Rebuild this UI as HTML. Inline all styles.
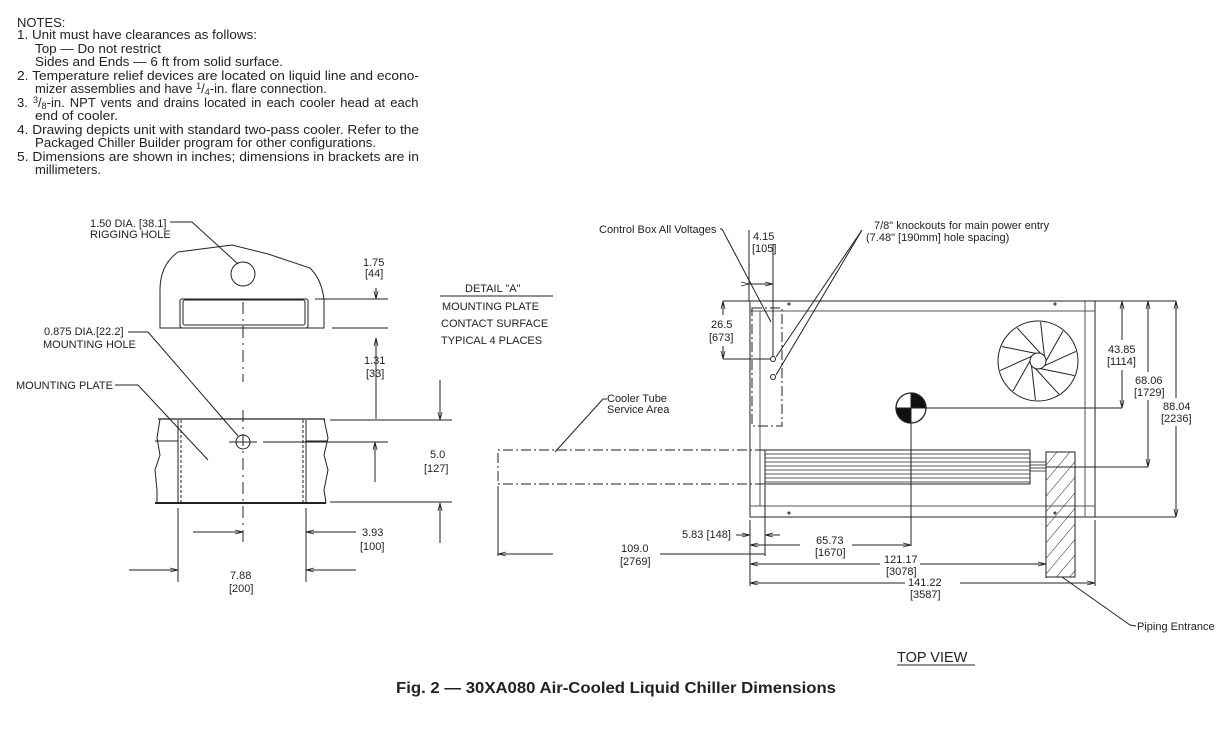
<!DOCTYPE html>
<html><head><meta charset="utf-8"><style>
html,body{margin:0;padding:0;background:#fff;}
svg{display:block;}
text{font-family:"Liberation Sans",sans-serif;fill:#222;}
</style></head><body>
<svg width="1227" height="738" viewBox="0 0 1227 738" xmlns="http://www.w3.org/2000/svg">
<defs>
<marker id="a" markerWidth="8" markerHeight="6" refX="8" refY="3" orient="auto" markerUnits="userSpaceOnUse"><path d="M0,1 L8,3 L0,5" fill="none" stroke="#222" stroke-width="0.8"/></marker>
<pattern id="h" width="10" height="10" patternUnits="userSpaceOnUse" patternTransform="rotate(40)"><line x1="0" y1="0" x2="0" y2="10" stroke="#222" stroke-width="1"/></pattern>
</defs>
<g font-size="13">
<text x="17" y="27">NOTES:</text>
<text x="17" y="39" textLength="240" lengthAdjust="spacingAndGlyphs">1.  Unit must have clearances as follows:</text>
<text x="35" y="53" textLength="126" lengthAdjust="spacingAndGlyphs">Top — Do not restrict</text>
<text x="35" y="66" textLength="248" lengthAdjust="spacingAndGlyphs">Sides and Ends — 6 ft from solid surface.</text>
<text x="17" y="80" textLength="402" lengthAdjust="spacingAndGlyphs">2.  Temperature relief devices are located on liquid line and econo-</text>
<text x="35" y="93">mizer assemblies and have <tspan font-size="9" dy="-4">1</tspan><tspan dy="4">/</tspan><tspan font-size="9" dy="2">4</tspan><tspan dy="-2">-in. flare connection.</tspan></text>
<text x="17" y="107" word-spacing="1.5"><tspan>3.  </tspan><tspan font-size="9" dy="-4">3</tspan><tspan dy="4">/</tspan><tspan font-size="9" dy="2">8</tspan><tspan dy="-2">-in. NPT vents and drains located in each cooler head at each</tspan></text>
<text x="35" y="120" textLength="83" lengthAdjust="spacingAndGlyphs">end of cooler.</text>
<text x="17" y="134" textLength="402" lengthAdjust="spacingAndGlyphs">4.  Drawing depicts unit with standard two-pass cooler. Refer to the</text>
<text x="35" y="147" textLength="341" lengthAdjust="spacingAndGlyphs">Packaged Chiller Builder program for other configurations.</text>
<text x="17" y="161" textLength="402" lengthAdjust="spacingAndGlyphs">5.  Dimensions are shown in inches; dimensions in brackets are in</text>
<text x="35" y="174" textLength="66" lengthAdjust="spacingAndGlyphs">millimeters.</text>
</g>
<g stroke="#222" stroke-width="1" fill="none">
<path d="M160,328 L160,290 Q160,265 178,252 L232,245 L268,254 L310,268 Q322,280 324,300 L324,328 Z"/>
<circle cx="243" cy="274" r="12"/>
<rect x="180" y="299" width="128" height="29" rx="2"/>
<rect x="183" y="300" width="122" height="25" rx="2"/>
<line x1="243" y1="302" x2="243" y2="382" stroke-dasharray="12,5,2,5"/>
<line x1="170" y1="222" x2="192" y2="222"/><line x1="192" y1="222" x2="238" y2="264"/>
<path d="M160,419 L157,438 L160,455 L155,470 L157,490 L157,503"/>
<path d="M324,419 L328,438 L324,455 L328,470 L324,490 L326,503"/>
<line x1="158" y1="419" x2="325" y2="419" stroke-width="1.3"/>
<line x1="155" y1="503" x2="326" y2="503" stroke-width="2"/>
<line x1="155" y1="441" x2="178" y2="441"/><line x1="306" y1="441" x2="327" y2="441"/>
<line x1="178" y1="420" x2="178" y2="503"/><line x1="306" y1="420" x2="306" y2="503"/>
<line x1="181" y1="420" x2="181" y2="503" stroke-dasharray="3,2"/><line x1="303" y1="420" x2="303" y2="503" stroke-dasharray="3,2"/>
<circle cx="243" cy="442" r="7"/>
<line x1="243" y1="410" x2="243" y2="545" stroke-dasharray="12,5,2,5"/>
<line x1="229" y1="442" x2="257" y2="442"/>
<line x1="263" y1="442" x2="388" y2="442"/>
<line x1="128" y1="332" x2="148" y2="332"/><line x1="148" y1="332" x2="238" y2="436"/>
<line x1="115" y1="385" x2="138" y2="385"/><line x1="138" y1="385" x2="208" y2="460"/>
<line x1="315" y1="299" x2="388" y2="299"/><line x1="332" y1="328" x2="388" y2="328"/>
<line x1="376" y1="288" x2="376" y2="299" marker-end="url(#a)"/>
<line x1="376" y1="419" x2="376" y2="338" marker-end="url(#a)"/>
<line x1="330" y1="420" x2="452" y2="420"/><line x1="330" y1="502" x2="452" y2="502"/>
<line x1="375" y1="482" x2="375" y2="442" marker-end="url(#a)"/>
<line x1="440" y1="380" x2="440" y2="420" marker-end="url(#a)"/>
<line x1="440" y1="543" x2="440" y2="503" marker-end="url(#a)"/>
<line x1="178" y1="508" x2="178" y2="582"/><line x1="306" y1="508" x2="306" y2="582"/>
<line x1="193" y1="532" x2="243" y2="532" marker-end="url(#a)"/>
<line x1="356" y1="532" x2="306" y2="532" marker-end="url(#a)"/>
<line x1="129" y1="570" x2="178" y2="570" marker-end="url(#a)"/>
<line x1="356" y1="570" x2="306" y2="570" marker-end="url(#a)"/>
<line x1="440" y1="296" x2="553" y2="296"/>
</g>
<g font-size="11">
<text x="90" y="227">1.50 DIA. [38.1]</text><text x="90" y="238">RIGGING HOLE</text>
<text x="44" y="335">0.875 DIA.[22.2]</text><text x="43" y="348">MOUNTING HOLE</text>
<text x="16" y="389">MOUNTING PLATE</text>
<text x="363" y="266">1.75</text><text x="365" y="277">[44]</text>
<text x="364" y="364">1.31</text><text x="366" y="377">[33]</text>
<text x="430" y="458">5.0</text><text x="424" y="472">[127]</text>
<text x="362" y="536">3.93</text><text x="360" y="550">[100]</text>
<text x="230" y="579">7.88</text><text x="229" y="592">[200]</text>
<text x="465" y="292">DETAIL "A"</text>
<text x="442" y="310">MOUNTING PLATE</text>
<text x="441" y="327">CONTACT SURFACE</text>
<text x="441" y="344">TYPICAL 4 PLACES</text>
</g>
<g stroke="#222" stroke-width="1" fill="none">
<rect x="750" y="301" width="345" height="216" stroke="#555" stroke-width="1.3"/>
<line x1="750" y1="311" x2="1095" y2="311" stroke="#555"/>
<line x1="750" y1="506" x2="1095" y2="506" stroke="#555"/>
<line x1="760" y1="311" x2="760" y2="506" stroke="#555"/>
<line x1="1085" y1="301" x2="1085" y2="517" stroke="#555"/>
<rect x="752" y="308" width="30" height="118" stroke-dasharray="10,3,2,3"/>
<circle cx="773" cy="359" r="2.5"/><circle cx="773" cy="377" r="2.5"/>
<circle cx="789" cy="304" r="1"/><circle cx="1055" cy="304" r="1"/><circle cx="789" cy="513" r="1"/><circle cx="1055" cy="513" r="1"/>
<circle cx="1038" cy="361" r="40"/><circle cx="1038" cy="361" r="8"/>
<g id="blade"><line x1="1046" y1="361" x2="1063" y2="331"/></g>
<use href="#blade" transform="rotate(36 1038 361)"/><use href="#blade" transform="rotate(72 1038 361)"/><use href="#blade" transform="rotate(108 1038 361)"/><use href="#blade" transform="rotate(144 1038 361)"/><use href="#blade" transform="rotate(180 1038 361)"/><use href="#blade" transform="rotate(216 1038 361)"/><use href="#blade" transform="rotate(252 1038 361)"/><use href="#blade" transform="rotate(288 1038 361)"/><use href="#blade" transform="rotate(324 1038 361)"/>
<circle cx="911" cy="408" r="15" stroke-width="1.3"/>
<path d="M911,408 L911,393 A15,15 0 0 1 926,408 Z M911,408 L911,423 A15,15 0 0 1 896,408 Z" fill="#111"/>
<line x1="926" y1="408" x2="1122" y2="408"/>
<line x1="911" y1="423" x2="911" y2="546"/>
<rect x="765" y="450" width="265" height="34"/>
<g stroke-width="0.8"><line x1="765" y1="454" x2="1030" y2="454"/><line x1="765" y1="458" x2="1030" y2="458"/><line x1="765" y1="462" x2="1030" y2="462"/><line x1="765" y1="466" x2="1030" y2="466"/><line x1="765" y1="470" x2="1030" y2="470"/><line x1="765" y1="474" x2="1030" y2="474"/><line x1="765" y1="478" x2="1030" y2="478"/><line x1="765" y1="482" x2="1030" y2="482"/>
<line x1="1030" y1="462" x2="1046" y2="462"/><line x1="1030" y1="465" x2="1046" y2="465"/><line x1="1030" y1="468" x2="1046" y2="468"/><line x1="1030" y1="471" x2="1046" y2="471"/></g>
<line x1="1046" y1="467" x2="1148" y2="467"/>
<rect x="1046" y="452" width="29" height="125" fill="url(#h)"/>
<path d="M765,450 L498,450 L498,484 L765,484" stroke-dasharray="10,3,2,3"/>
<line x1="498" y1="486" x2="498" y2="556"/>
<line x1="555" y1="452" x2="603" y2="399"/><line x1="603" y1="399" x2="607" y2="399"/>
<line x1="765" y1="485" x2="765" y2="556"/>
<line x1="750" y1="520" x2="750" y2="586"/><line x1="1095" y1="520" x2="1095" y2="586"/>
<line x1="1046" y1="578" x2="1046" y2="566"/>
<line x1="553" y1="554" x2="498" y2="554" marker-end="url(#a)"/><line x1="660" y1="554" x2="765" y2="554"/>
<line x1="736" y1="535" x2="750" y2="535" marker-end="url(#a)"/><line x1="780" y1="535" x2="765" y2="535" marker-end="url(#a)"/>
<line x1="800" y1="545" x2="750" y2="545" marker-end="url(#a)"/><line x1="852" y1="545" x2="911" y2="545" marker-end="url(#a)"/>
<line x1="880" y1="564" x2="750" y2="564" marker-end="url(#a)"/><line x1="920" y1="564" x2="1046" y2="564" marker-end="url(#a)"/>
<line x1="905" y1="583" x2="750" y2="583" marker-end="url(#a)"/><line x1="960" y1="583" x2="1095" y2="583" marker-end="url(#a)"/>
<line x1="1095" y1="301" x2="1176" y2="301"/><line x1="1095" y1="517" x2="1176" y2="517"/>
<line x1="1122" y1="340" x2="1122" y2="301" marker-end="url(#a)"/><line x1="1122" y1="370" x2="1122" y2="408" marker-end="url(#a)"/>
<line x1="1148" y1="372" x2="1148" y2="301" marker-end="url(#a)"/><line x1="1148" y1="400" x2="1148" y2="467" marker-end="url(#a)"/>
<line x1="1176" y1="398" x2="1176" y2="301" marker-end="url(#a)"/><line x1="1176" y1="426" x2="1176" y2="517" marker-end="url(#a)"/>
<line x1="749" y1="230" x2="749" y2="301"/><line x1="773" y1="244" x2="773" y2="357"/>
<line x1="749" y1="284" x2="773" y2="284" marker-start="url(#a)" marker-end="url(#a)"/>
<line x1="723" y1="301" x2="750" y2="301"/><line x1="723" y1="359" x2="771" y2="359"/>
<line x1="723" y1="315" x2="723" y2="301" marker-end="url(#a)"/><line x1="723" y1="346" x2="723" y2="359" marker-end="url(#a)"/>
<line x1="720" y1="229" x2="722" y2="229"/><line x1="722" y1="229" x2="771" y2="322"/>
<line x1="862" y1="230" x2="776" y2="357"/><line x1="862" y1="230" x2="776" y2="375"/>
<line x1="1062" y1="577" x2="1130" y2="625"/><line x1="1130" y1="625" x2="1136" y2="626"/>
</g>
<g font-size="11">
<text x="599" y="233">Control Box All Voltages</text>
<text x="753" y="240">4.15</text><text x="752" y="252">[105]</text>
<text x="711" y="328">26.5</text><text x="709" y="341">[673]</text>
<text x="874" y="229">7/8" knockouts for main power entry</text>
<text x="866" y="241">(7.48" [190mm] hole spacing)</text>
<text x="607" y="402">Cooler Tube</text><text x="607" y="413">Service Area</text>
<text x="1108" y="353">43.85</text><text x="1107" y="365">[1114]</text>
<text x="1135" y="384">68.06</text><text x="1134" y="396">[1729]</text>
<text x="1163" y="410">88.04</text><text x="1161" y="422">[2236]</text>
<text x="682" y="538">5.83 [148]</text>
<text x="816" y="544">65.73</text><text x="815" y="556">[1670]</text>
<text x="621" y="552">109.0</text><text x="620" y="565">[2769]</text>
<text x="884" y="563">121.17</text><text x="886" y="575">[3078]</text>
<text x="908" y="586">141.22</text><text x="910" y="598">[3587]</text>
<text x="1137" y="630">Piping Entrance</text>
</g>
<text x="897" y="662" font-size="14.5">TOP VIEW</text>
<line x1="897" y1="665" x2="975" y2="665" stroke="#222" stroke-width="1"/>
<text x="396" y="693" font-size="15.5" font-weight="bold" textLength="440" lengthAdjust="spacingAndGlyphs">Fig. 2 — 30XA080 Air-Cooled Liquid Chiller Dimensions</text>
</svg>
</body></html>
